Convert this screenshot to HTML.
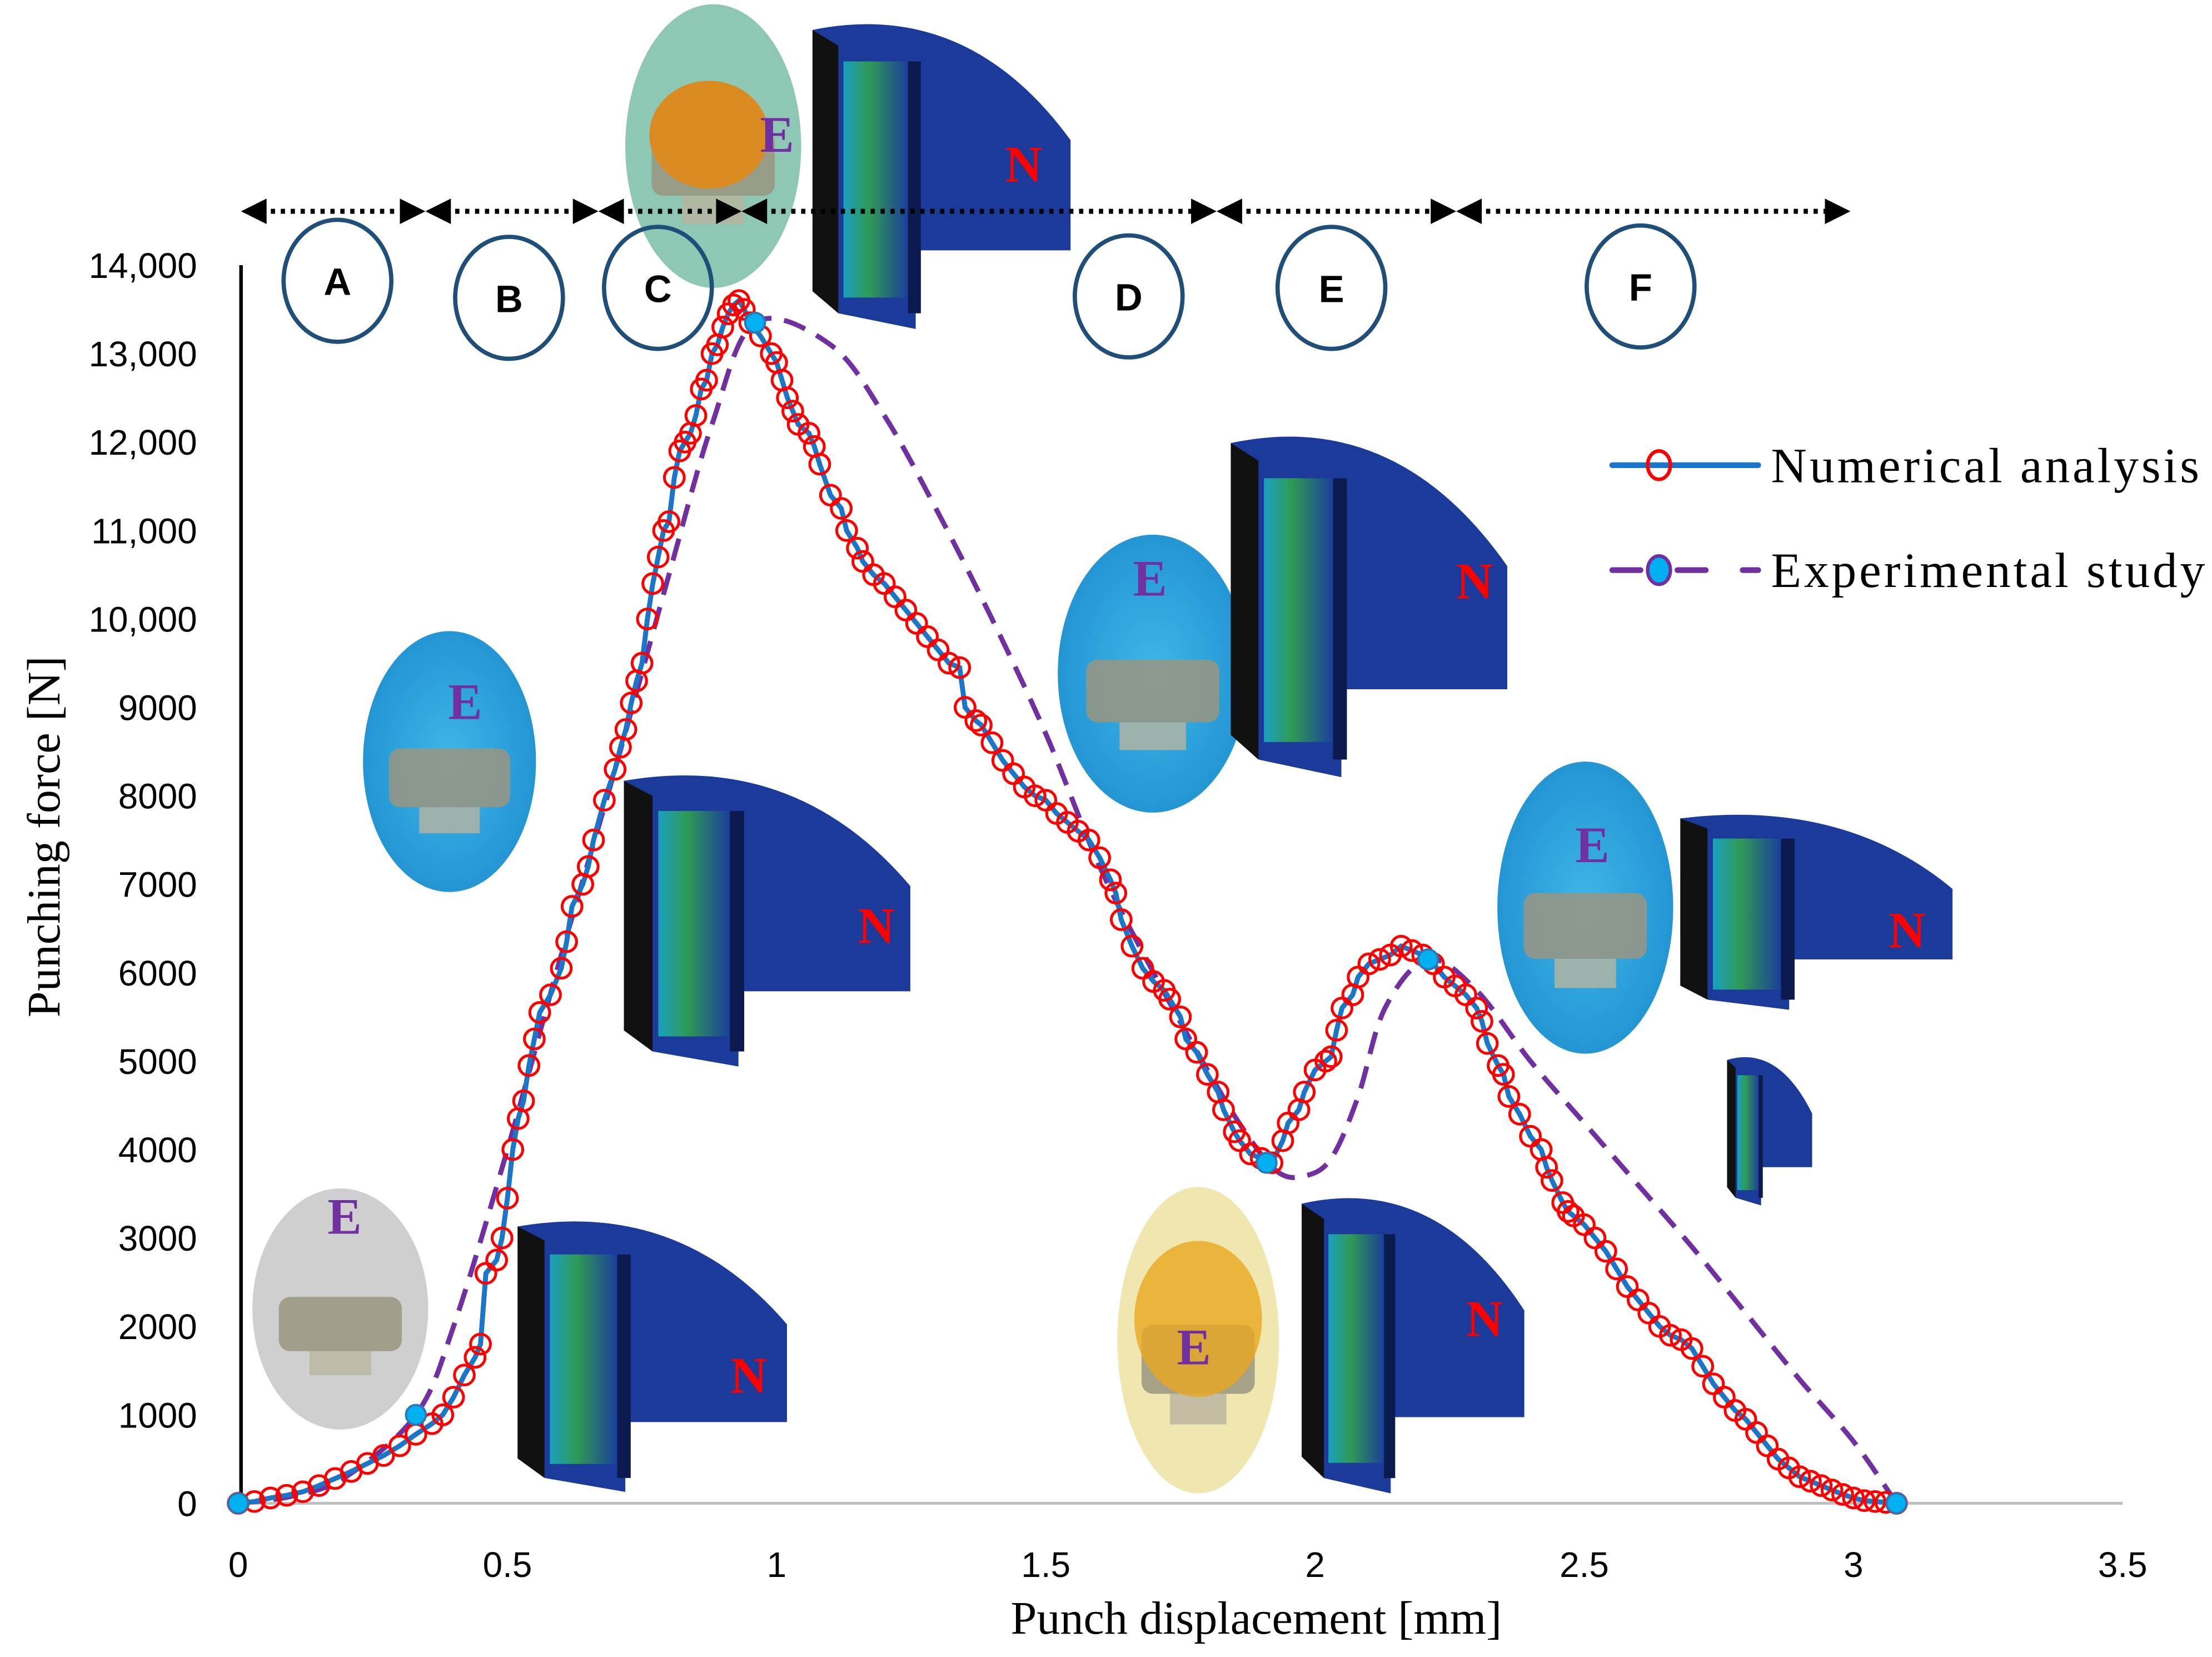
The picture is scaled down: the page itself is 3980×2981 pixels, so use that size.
<!DOCTYPE html>
<html><head><meta charset="utf-8">
<style>
html,body{margin:0;padding:0;background:#fff;}
svg{display:block;}
.tick{font-family:"Liberation Sans",sans-serif;font-size:25px;fill:#000;}
.ser{font-family:"Liberation Serif",serif;}
</style></head>
<body>
<svg id="chart" width="3980" height="2981" viewBox="0 0 1560 1168.4" preserveAspectRatio="none" xmlns="http://www.w3.org/2000/svg">
<defs>
<radialGradient id="blueG" cx="50%" cy="50%" r="60%"><stop offset="0" stop-color="#3fb6e8"/><stop offset="1" stop-color="#1e8fd0"/></radialGradient>
<linearGradient id="feG" x1="0" y1="0" x2="1" y2="0"><stop offset="0" stop-color="#1aa0c0"/><stop offset="0.4" stop-color="#2f9a55"/><stop offset="1" stop-color="#1b3f9a"/></linearGradient>
</defs>
<g id="insets"></g>
<g id="axes"></g>
<g id="series"></g>
<g id="overlay"></g>
</svg>
<script>
const NS="http://www.w3.org/2000/svg";
// ---- data ----
const numX=[
0,0.03,0.06,0.09,0.12,0.15,0.18,0.21,0.24,0.27,
0.3,0.33,0.36,0.38,0.4,0.42,0.44,0.45,0.46,0.48,
0.49,0.5,0.51,0.52,0.53,0.54,0.55,0.56,0.58,0.6,
0.61,0.62,0.64,0.65,0.66,0.68,0.7,0.71,0.72,0.73,
0.74,0.75,0.76,0.77,0.78,0.79,0.8,0.81,0.82,0.83,
0.84,0.85,0.86,0.87,0.88,0.89,0.9,0.91,0.92,0.93,
0.94,0.95,0.97,0.99,1.0,1.01,1.02,1.03,1.04,1.06,
1.07,1.08,1.1,1.12,1.13,1.15,1.16,1.18,1.2,1.22,
1.24,1.26,1.28,1.3,1.32,1.34,1.35,1.37,1.38,1.4,
1.42,1.44,1.46,1.48,1.5,1.52,1.54,1.56,1.58,1.6,
1.62,1.63,1.64,1.66,1.68,1.7,1.72,1.73,1.75,1.76,
1.78,1.8,1.82,1.83,1.85,1.86,1.88,1.9,1.92,1.94,
1.95,1.97,1.98,2.0,2.02,2.03,2.04,2.05,2.07,2.08,
2.1,2.12,2.14,2.16,2.18,2.2,2.22,2.24,2.26,2.28,
2.3,2.31,2.32,2.34,2.35,2.36,2.38,2.4,2.42,2.43,
2.44,2.46,2.47,2.48,2.5,2.52,2.54,2.56,2.58,2.6,
2.62,2.64,2.66,2.68,2.7,2.72,2.74,2.76,2.78,2.8,
2.82,2.84,2.86,2.88,2.9,2.92,2.94,2.96,2.98,3.0,
3.02,3.04,3.06,3.08];
const numY=[
0,20,60,90,130,200,280,360,450,540,
650,780,900,1000,1200,1450,1650,1800,2600,2750,
3000,3450,4000,4350,4550,4950,5250,5550,5750,6050,
6350,6750,7000,7200,7500,7950,8300,8550,8750,9050,
9300,9500,10000,10400,10700,11000,11100,11600,11900,12000,
12100,12300,12600,12700,13000,13100,13300,13450,13550,13600,
13500,13350,13200,13000,12900,12700,12500,12350,12200,12100,
11950,11750,11400,11250,11000,10800,10650,10500,10400,10250,
10100,9950,9800,9650,9500,9450,9000,8850,8800,8600,
8400,8250,8100,8000,7950,7800,7700,7600,7500,7300,
7050,6900,6600,6300,6050,5900,5800,5700,5500,5250,
5100,4850,4650,4450,4200,4100,3950,3900,3850,4100,
4300,4450,4650,4900,5000,5050,5350,5600,5750,5950,
6100,6150,6200,6300,6250,6200,6100,5950,5850,5750,
5600,5450,5200,4950,4850,4600,4400,4150,4000,3800,
3650,3400,3300,3250,3150,3000,2850,2650,2450,2300,
2150,2000,1900,1850,1750,1550,1350,1200,1050,950,
800,650,500,400,300,250,200,150,100,60,
30,20,10,0];
const expX=[0,0.1,0.2,0.33,0.4,0.5,0.6,0.7,0.8,0.88,0.96,1.1,1.2,1.3,1.4,1.5,1.6,1.7,1.8,1.87,1.93,1.98,2.03,2.08,2.13,2.21,2.3,2.4,2.5,2.6,2.7,2.8,2.9,3.0,3.08];
const expY=[0,80,300,1000,2000,4000,6200,8300,10500,12200,13350,13100,12300,11200,10000,8700,7200,6000,4900,4200,3750,3700,3900,4600,5600,6150,5800,5000,4300,3600,2900,2150,1400,700,0];
const expMarkX=[0,0.33,0.96,1.91,2.21,3.08];
const expMarkY=[0,1000,13350,3850,6150,0];
const yTicks=[0,1000,2000,3000,4000,5000,6000,7000,8000,9000,10000,11000,12000,13000,14000];
const yTickLabels=["0","1000","2000","3000","4000","5000","6000","7000","8000","9000","10,000","11,000","12,000","13,000","14,000"];
const xTicks=[0,0.5,1,1.5,2,2.5,3,3.5];
const xTickLabels=["0","0.5","1","1.5","2","2.5","3","3.5"];
// ---- scales ----
const X0=168,X1=1497,Y0=1060,Y1=187;
const sx=v=>X0+(X1-X0)*v/3.5;
const sy=v=>Y0-(Y0-Y1)*v/14000;
function mk(tag,attrs,parent,text){const e=document.createElementNS(NS,tag);for(const k in attrs)e.setAttribute(k,attrs[k]);if(text!==undefined)e.textContent=text;parent.appendChild(e);return e;}
const axes=document.getElementById('axes'),series=document.getElementById('series'),ins=document.getElementById('insets'),ov=document.getElementById('overlay');
let a=mk('line',{x1:X0,y1:Y0,x2:X1,y2:Y0,stroke:'#bfbfbf','stroke-width':2},axes);


a=mk('line',{x1:170,y1:Y0,x2:170,y2:Y1,stroke:'#000','stroke-width':2.5},axes);


yTicks.forEach((v,i)=>{const t=mk('text',{x:139,y:sy(v)+9,'text-anchor':'end',class:'tick'},axes,yTickLabels[i]);

});
xTicks.forEach((v,i)=>{const t=mk('text',{x:sx(v),y:1112,'text-anchor':'middle',class:'tick'},axes,xTickLabels[i]);

});
let t=mk('text',{x:886,y:1152,'text-anchor':'middle',class:'ser','font-size':33},axes,'Punch displacement [mm]');


t=mk('text',{x:0,y:0,transform:'translate(42,590) rotate(-90)','text-anchor':'middle',class:'ser','font-size':33},axes,'Punching force [N]');


function photo(cx,cy,rx,ry,fill,name){const g=mk('g',{},ins);


mk('ellipse',{cx,cy,rx,ry,fill},g);
mk('rect',{x:cx-rx*0.7,y:cy-ry*0.1,width:rx*1.4,height:ry*0.45,rx:8,fill:'#9a9580',opacity:0.85},g);
mk('rect',{x:cx-rx*0.35,y:cy+ry*0.35,width:rx*0.7,height:ry*0.2,fill:'#b8b4a0',opacity:0.8},g);}
function fe(x1,y1,x2,y2,name){const g=mk('g',{},ins);


const w=x2-x1,h=y2-y1;
mk('path',{d:`M${x1},${y1+h*0.05} Q${x1+w*0.6},${y1-h*0.05} ${x2},${y1+h*0.4} L${x2},${y1+h*0.75} L${x1+w*0.4},${y1+h*0.75} L${x1+w*0.4},${y2} L${x1+w*0.1},${y2-h*0.05} Z`,fill:'#1c3a9a'},g);
mk('path',{d:`M${x1},${y1+h*0.05} L${x1+w*0.1},${y1+h*0.1} L${x1+w*0.1},${y2-h*0.05} L${x1},${y2-h*0.12} Z`,fill:'#111'},g);
mk('rect',{x:x1+w*0.12,y:y1+h*0.15,width:w*0.25,height:h*0.75,fill:'url(#feG)'},g);
mk('rect',{x:x1+w*0.37,y:y1+h*0.15,width:w*0.05,height:h*0.8,fill:'#0d1a50'},g);}
photo(503,103,62,100,'#8fc7b5','photo-stage-c');
mk('ellipse',{cx:500,cy:95,rx:42,ry:38,fill:'#d98a20'},ins);
photo(813,475,67,98,'url(#blueG)','photo-stage-d');
photo(317,537,61,92,'url(#blueG)','photo-stage-b');
photo(240,923,62,85,'#cfcfcf','photo-stage-a');
photo(845,945,57,108,'#f0e7b0','photo-stage-e2');
mk('ellipse',{cx:845,cy:930,rx:45,ry:55,fill:'#e8a820',opacity:0.8},ins);
photo(1118,640,62,103,'url(#blueG)','photo-stage-e');
fe(573,10,755,232,'fe-model-c');
fe(868,300,1063,548,'fe-model-d');
fe(440,540,642,752,'fe-model-b');
fe(365,855,555,1052,'fe-model-a');
fe(918,838,1075,1053,'fe-model-e2');
fe(1185,570,1377,712,'fe-model-e');
fe(1218,742,1278,850,'fe-model-f');
const labs=[[548,107,'E','#7030a0'],[722,128,'N','#ff0000'],[811,420,'E','#7030a0'],[1040,422,'N','#ff0000'],[328,507,'E','#7030a0'],[618,665,'N','#ff0000'],[243,870,'E','#7030a0'],[528,982,'N','#ff0000'],[842,962,'E','#7030a0'],[1047,942,'N','#ff0000'],[1123,608,'E','#7030a0'],[1345,668,'N','#ff0000']];
labs.forEach(l=>{const e=mk('text',{x:l[0],y:l[1],'text-anchor':'middle',class:'ser','font-size':36,'font-weight':'bold',fill:l[3]},ins,l[2]);

});
function smooth(px,py){let d=`M${px[0]},${py[0]}`;for(let i=0;i<px.length-1;i++){const p0=i?i-1:i,p3=i+2<px.length?i+2:i+1;
const c1x=px[i]+(px[i+1]-px[p0])/6,c1y=py[i]+(py[i+1]-py[p0])/6,c2x=px[i+1]-(px[p3]-px[i])/6,c2y=py[i+1]-(py[p3]-py[i])/6;
d+=` C${c1x},${c1y} ${c2x},${c2y} ${px[i+1]},${py[i+1]}`;}return d;}
let p=mk('path',{d:smooth(expX.map(sx),expY.map(sy)),fill:'none',stroke:'#7030a0','stroke-width':3.5,'stroke-dasharray':'16 9'},series);


p=mk('path',{d:'M'+numX.map((v,i)=>sx(v)+','+sy(numY[i])).join(' L'),fill:'none',stroke:'#1b75c8','stroke-width':3.5},series);


numX.forEach((v,i)=>{const c=mk('circle',{cx:sx(v),cy:sy(numY[i]),r:7,fill:'none',stroke:'#ff0000','stroke-width':2},series);

});
expMarkX.forEach((v,i)=>{const c=mk('circle',{cx:sx(v),cy:sy(expMarkY[i]),r:7,fill:'#00b0f0',stroke:'#2e75b6','stroke-width':1.5},series);

});
const seg=[170,300,422,523,858,1027,1305];
for(let i=0;i<seg.length-1;i++){const g=mk('g',{},ov);


mk('line',{x1:seg[i]+14,y1:149,x2:seg[i+1]-14,y2:149,stroke:'#000','stroke-width':3.5,'stroke-dasharray':'3 4'},g);
mk('polygon',{points:`${seg[i]},149 ${seg[i]+18},140 ${seg[i]+18},158`,fill:'#000'},g);
mk('polygon',{points:`${seg[i+1]},149 ${seg[i+1]-18},140 ${seg[i+1]-18},158`,fill:'#000'},g);}
const stages=[[238,198,'A'],[359,210,'B'],[464,203,'C'],[796,209,'D'],[939,203,'E'],[1157,202,'F']];
stages.forEach(s=>{const g=mk('g',{},ov);


mk('ellipse',{cx:s[0],cy:s[1],rx:38,ry:43,fill:'none',stroke:'#1f4e79','stroke-width':3},g);
mk('text',{x:s[0],y:s[1]+10,'text-anchor':'middle','font-family':'Liberation Sans, sans-serif','font-size':27,'font-weight':'bold'},g,s[2]);});
const lg=mk('g',{},ov);


let le=mk('g',{},lg);


mk('line',{x1:1137,y1:328,x2:1240,y2:328,stroke:'#1b75c8','stroke-width':4,'stroke-linecap':'round'},le);
mk('ellipse',{cx:1170,cy:328,rx:8,ry:10,fill:'none',stroke:'#ff0000','stroke-width':2.5},le);
mk('text',{x:1249,y:340,class:'ser','font-size':35,textLength:302},le,'Numerical analysis');
le=mk('g',{},lg);


mk('line',{x1:1137,y1:402,x2:1240,y2:402,stroke:'#7030a0','stroke-width':4,'stroke-dasharray':'20 26','stroke-linecap':'round'},le);
mk('ellipse',{cx:1170,cy:402,rx:8,ry:10,fill:'#00b0f0',stroke:'#7030a0','stroke-width':2.5},le);
mk('text',{x:1249,y:414,class:'ser','font-size':35,textLength:306},le,'Experimental study');
</script>
</body></html>
